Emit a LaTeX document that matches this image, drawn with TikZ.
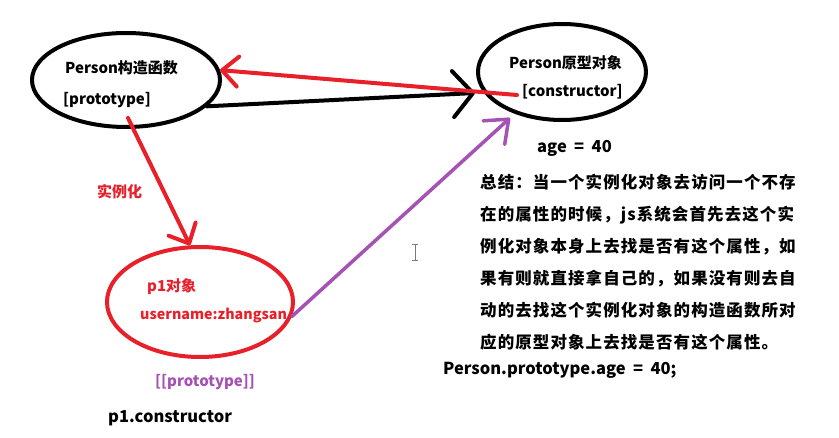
\documentclass[tikz,border=0pt]{standalone}
\usepackage{fontspec}
\setmainfont{Noto Sans CJK SC}
\newfontfamily\parafont{Noto Sans CJK SC}[LetterSpace=6.6]
\usetikzlibrary{shapes.geometric,arrows.meta}
\definecolor{myred}{HTML}{E8202A}
\definecolor{mypurple}{HTML}{A652B4}
\definecolor{cursorgray}{HTML}{7A7A7A}
\tikzset{
  oval/.style={ellipse, draw, line width=4pt, inner sep=0pt},
  lbl/.style={font=\bfseries\fontsize{15}{18}\selectfont, inner sep=0pt, anchor=west},
  biglbl/.style={lbl, font=\bfseries\fontsize{16.5}{20}\selectfont},
  para/.style={font=\parafont\bfseries\fontsize{16.5}{32}\selectfont, inner sep=0pt, anchor=north west, align=left},
  conn/.style={line width=4pt, line cap=round},
  barb/.style={-{Straight Barb[length=16pt, width=30pt, round]}},
}
\begin{document}
\begin{tikzpicture}[x=1pt, y=-1pt]
\useasboundingbox[fill=white] (0,0) rectangle (839,438);
% ellipses
\node[oval, minimum width=188pt, minimum height=94pt] (pc) at (126,80) {};
\node[oval, minimum width=168pt, minimum height=96pt] (po) at (562,72) {};
\node[oval, draw=myred, minimum width=186pt, minimum height=110pt] (p1) at (200,302) {};
% labels
\node[lbl] (pcname) at (65,68) {Person构造函数};
\node[lbl] (pcproto) at (63,100) {[prototype]};
\node[lbl] (poname) at (509,63) {Person原型对象};
\node[lbl] (poctor) at (522,92) {[constructor]};
\node[biglbl] (age) at (537,148) {age\hspace{0.45em}=\hspace{0.45em}40};
\node[lbl, text=myred] (inst) at (97,192) {实例化};
\node[lbl, text=myred] (p1name) at (147,287) {p1对象};
\node[lbl, text=myred, font=\bfseries\fontsize{14.3}{17}\selectfont] (p1user) at (140,315) {username:zhangsan};
\node[lbl, text=mypurple] (p1proto) at (155,382) {[[prototype]]};
\node[biglbl] (p1ctor) at (108,418) {p1.constructor};
\node[para] (summary) at (480,174) {总结：当一个实例化对象去访问一个不存\\在的属性的时候，js系统会首先去这个实\\例化对象本身上去找是否有这个属性，如\\果有则就直接拿自己的，如果没有则去自\\动的去找这个实例化对象的构造函数所对\\应的原型对象上去找是否有这个属性。};
\node[biglbl] (code) at (443,370) {Person.prototype.age\hspace{0.45em}=\hspace{0.45em}40;};
% connector end points
\coordinate (redstart) at (517,95);
\coordinate (blacktip) at (475,93);
\coordinate (downstart) at (128,118);
\coordinate (purpletip) at (510,118);
% connectors
\draw[conn, black, -{Straight Barb[length=20pt, width=46pt, round]}] (pc.-18) -- (blacktip);
\draw[conn, myred, barb] (redstart) -- (pc.6);
\draw[conn, myred, barb] (downstart) -- (p1.100);
\draw[conn, mypurple, line width=3.5pt, -{Straight Barb[length=20pt, width=32pt, round]}] (p1.-9) -- (purpletip);
% text cursor
\draw[cursorgray, line width=1pt] (415,245) -- (415,261) (412,245) -- (418,245) (412,261) -- (418,261);
\end{tikzpicture}
\end{document}
